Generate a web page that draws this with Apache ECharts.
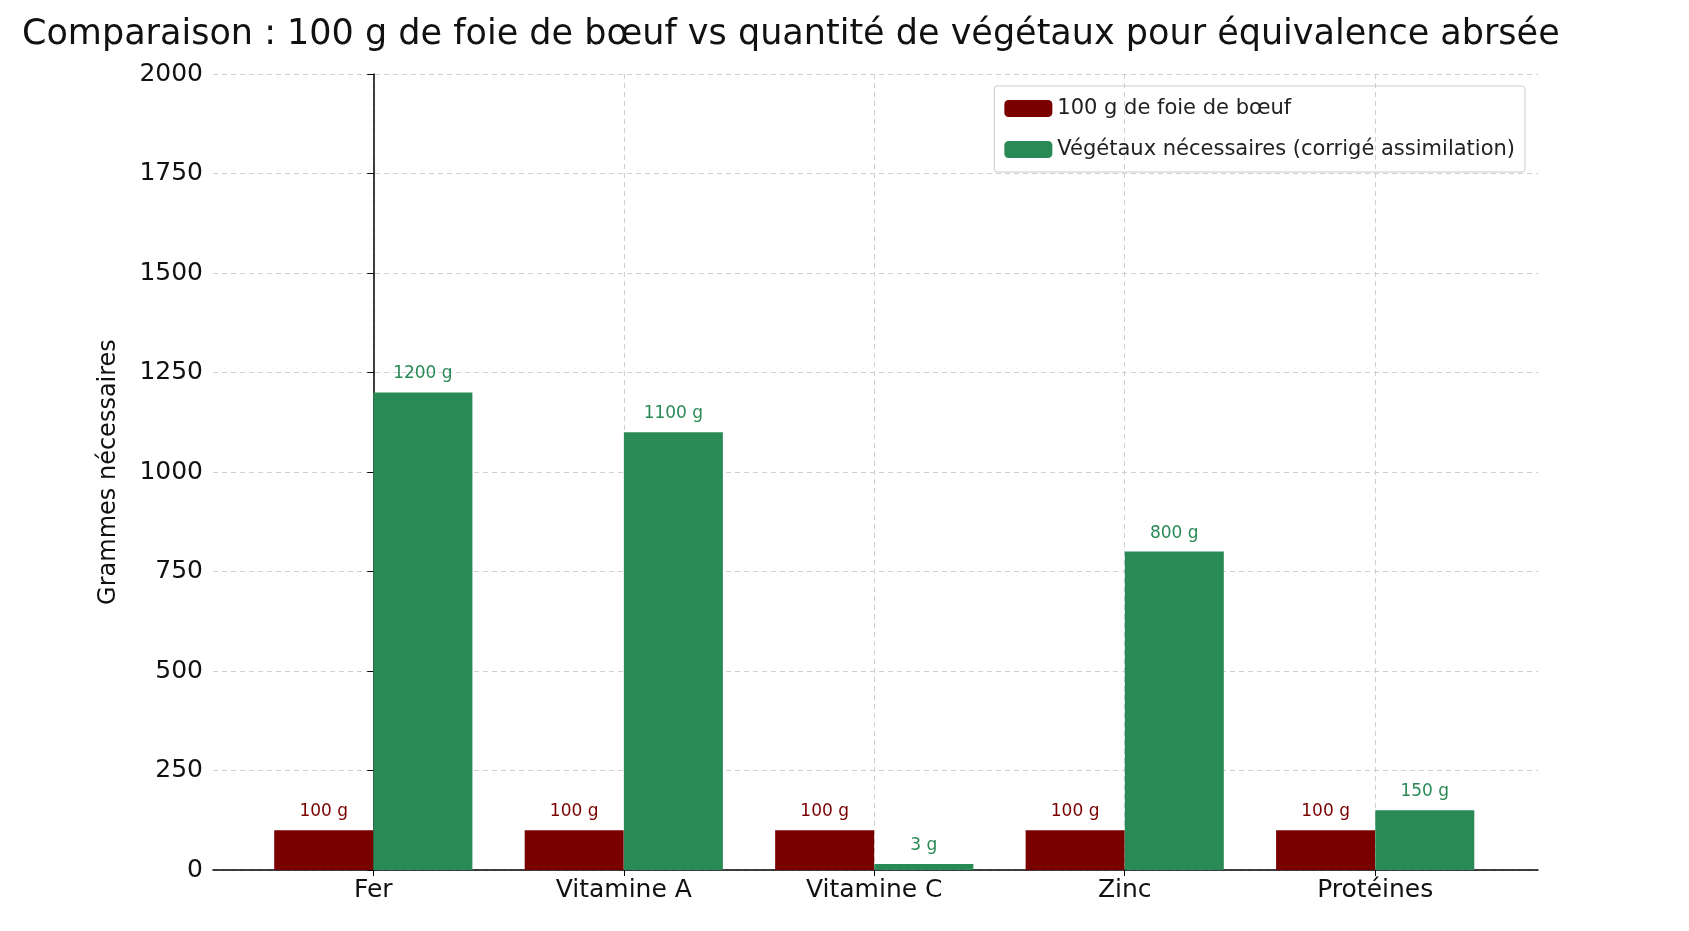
<!DOCTYPE html>
<html><head><meta charset="utf-8">
<script src="https://cdn.jsdelivr.net/npm/echarts@6/dist/echarts.min.js"></script>
<style>html,body{margin:0;padding:0;background:#fff}#c{width:1689px;height:931px}</style>
</head><body><div id="c"></div>
<script>
const categories = ['Fer','Vitamine A','Vitamine C','Zinc','Protéines'];
const foieValues = [100,100,100,100,100];
const vegValues = [1200,1100,15,800,150];
const foieLabels = ['100 g','100 g','100 g','100 g','100 g'];
const vegLabels = ['1200 g','1100 g','3 g','800 g','150 g'];
const yTicks = [0,250,500,750,1000,1250,1500,1750,2000];
const off = 0.198;
const chart = echarts.init(document.getElementById('c'));
const gridLine = {show:true,lineStyle:{type:[5,4],color:'#d0d0d0',width:1}};
chart.setOption({
  animation:false,
  title:{text:'Comparaison : 100 g de foie de bœuf vs quantité de végétaux pour équivalence abrsée',left:17,top:12,
    textStyle:{fontFamily:'DejaVu Sans',fontSize:35,fontWeight:'normal',color:'#111'}},
  legend:{right:164,top:86,orient:'vertical',itemWidth:48,itemHeight:17,itemGap:20,padding:[12,10,12,10],
    borderColor:'#ccc',borderWidth:1,borderRadius:3,
    textStyle:{fontFamily:'DejaVu Sans',fontSize:21,color:'#222'},
    data:['100 g de foie de bœuf','Végétaux nécessaires (corrigé assimilation)']},
  grid:{left:213,right:151,top:74,bottom:61},
  xAxis:{type:'value',min:-0.64,max:4.65,
    axisLine:{show:true,lineStyle:{color:'#000',width:1.5}},
    axisTick:{show:true,customValues:[0,1,2,3,4],length:6,lineStyle:{color:'#000'}},
    axisLabel:{customValues:[0,1,2,3,4],formatter:v=>categories[Math.round(v)],fontFamily:'DejaVu Sans',fontSize:25,color:'#111',margin:8},
    splitLine:gridLine},
  yAxis:{type:'value',min:0,max:2000,interval:250,
    name:'Grammes nécessaires',nameLocation:'middle',nameGap:92,nameRotate:90,
    nameTextStyle:{fontFamily:'DejaVu Sans',fontSize:24,color:'#111'},
    axisLine:{show:true,lineStyle:{color:'#000',width:1.5}},
    axisTick:{show:true,length:6,lineStyle:{color:'#000'}},
    axisLabel:{fontFamily:'DejaVu Sans',fontSize:25,color:'#111',margin:10,formatter:v=>yTicks.includes(v)?String(v):''},
    splitLine:gridLine},
  series:[
    {name:'100 g de foie de bœuf',type:'bar',barWidth:99,barGap:'-100%',itemStyle:{color:'#7a0000'},
     data:foieValues.map((v,i)=>[i-off,v]),
     label:{show:true,position:'top',distance:10,color:'#7a0000',fontFamily:'DejaVu Sans',fontSize:17,formatter:p=>foieLabels[p.dataIndex]}},
    {name:'Végétaux nécessaires (corrigé assimilation)',type:'bar',barWidth:99,barGap:'-100%',itemStyle:{color:'#2a8a55'},
     data:vegValues.map((v,i)=>[i+off,v]),
     label:{show:true,position:'top',distance:10,color:'#2a8a55',fontFamily:'DejaVu Sans',fontSize:17,formatter:p=>vegLabels[p.dataIndex]}}
  ]
});
</script></body></html>
